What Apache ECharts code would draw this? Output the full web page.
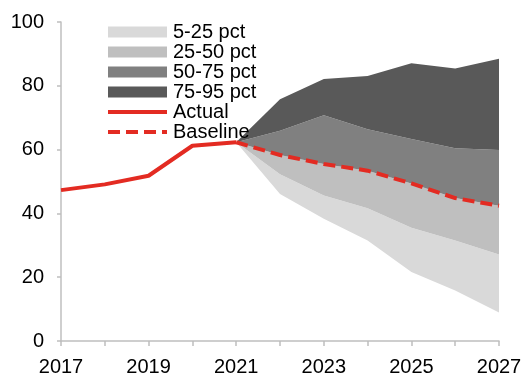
<!DOCTYPE html>
<html>
<head>
<meta charset="utf-8">
<script src="https://cdn.jsdelivr.net/npm/echarts@6/dist/echarts.min.js"></script>
<style>
  html, body { margin: 0; padding: 0; background: #fff; }
  #chart { width: 525px; height: 377px; }
</style>
</head>
<body>
<div id="chart"></div>
<script>
// data
const years = ['2017', '2018', '2019', '2020', '2021', '2022', '2023', '2024', '2025', '2026', '2027']
const actual = [47.3, 49.1, 51.8, 61.2, 62.3, null, null, null, null, null, null]
const baseline = [null, null, null, null, 62.3, 58.3, 55.5, 53.4, 49.4, 44.8, 42.4]
const p5 = [null, null, null, null, 62.3, 46.1, 38.3, 31.5, 21.6, 15.8, 8.9]
const p25 = [null, null, null, null, 62.3, 52.3, 45.6, 41.6, 35.5, 31.5, 27.1]
const p50 = baseline
const p75 = [null, null, null, null, 62.3, 65.9, 70.8, 66.4, 63.3, 60.4, 59.9]
const p95 = [null, null, null, null, 62.3, 75.8, 82.1, 83.1, 87.1, 85.4, 88.5]

// band thickness between two percentile lines
function band(lo, hi) {
  return lo.map((v, i) => (v == null || hi[i] == null) ? null : +(hi[i] - v).toFixed(2))
}

function area(name, data, color) {
  return {
    name: name,
    type: 'line',
    stack: 'fan',
    data: data,
    symbol: 'none',
    lineStyle: { width: 0 },
    areaStyle: { color: color, opacity: 1 },
    itemStyle: { color: color },
    emphasis: { disabled: true },
    z: 1
  }
}

let myChart = echarts.init(document.getElementById('chart'))

myChart.setOption({
  animation: false,
  textStyle: { fontFamily: 'Liberation Sans, Arial, sans-serif' },
  grid: { left: 61, right: 26, top: 22, bottom: 35 },
  legend: {
    orient: 'vertical',
    left: 101,
    top: 17,
    itemWidth: 59,
    itemHeight: 11,
    itemGap: 0,
    textStyle: { fontSize: 20, color: '#000', padding: [0, 0, 0, 1] },
    data: [
      { name: '5-25 pct', icon: 'rect' },
      { name: '25-50 pct', icon: 'rect' },
      { name: '50-75 pct', icon: 'rect' },
      { name: '75-95 pct', icon: 'rect' },
      { name: 'Actual', itemStyle: { opacity: 0 }, lineStyle: { width: 4 } },
      { name: 'Baseline', itemStyle: { opacity: 0 }, lineStyle: { width: 4 } }
    ]
  },
  xAxis: {
    type: 'category',
    data: years,
    boundaryGap: false,
    axisLine: { lineStyle: { color: '#bfbfbf', width: 1.5 } },
    axisTick: { interval: 0, length: 5, lineStyle: { color: '#bfbfbf', width: 1.5 } },
    axisLabel: { interval: 1, fontSize: 20, color: '#000', margin: 16 },
    splitLine: { show: false }
  },
  yAxis: {
    type: 'value',
    min: 0,
    max: 100,
    interval: 20,
    axisLine: { show: true, lineStyle: { color: '#bfbfbf', width: 1.5 } },
    axisTick: { show: true, length: 4, lineStyle: { color: '#bfbfbf', width: 1.5 } },
    axisLabel: { fontSize: 20, color: '#000', margin: 17 },
    splitLine: { show: false }
  },
  series: [
    {
      name: 'base',
      type: 'line',
      stack: 'fan',
      data: p5,
      symbol: 'none',
      lineStyle: { width: 0 },
      z: 1
    },
    area('5-25 pct', band(p5, p25), '#d9d9d9'),
    area('25-50 pct', band(p25, p50), '#bfbfbf'),
    area('50-75 pct', band(p50, p75), '#808080'),
    area('75-95 pct', band(p75, p95), '#595959'),
    {
      name: 'Actual',
      type: 'line',
      data: actual,
      symbol: 'none',
      lineStyle: { color: '#e32b22', width: 4 },
      itemStyle: { color: '#e32b22' },
      z: 3
    },
    {
      name: 'Baseline',
      type: 'line',
      data: baseline,
      symbol: 'none',
      lineStyle: { color: '#e32b22', width: 4, type: [12, 6] },
      itemStyle: { color: '#e32b22' },
      z: 3
    }
  ]
})
</script>
</body>
</html>
